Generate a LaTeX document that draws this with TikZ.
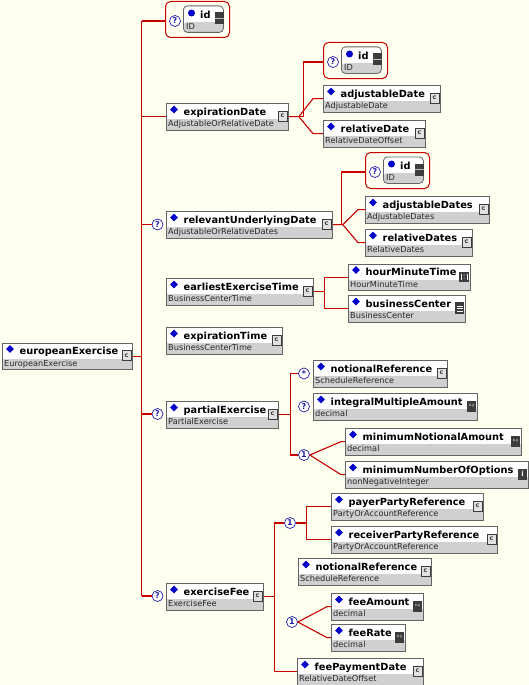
\documentclass[tikz,border=0pt]{standalone}
\usepackage{fontspec}
\setmainfont{DejaVu Sans}
\usetikzlibrary{shapes.geometric,calc}
\definecolor{bg}{RGB}{255,255,240}
\definecolor{lred}{RGB}{200,0,0}
\definecolor{bbord}{RGB}{100,100,100}
\definecolor{tgray}{RGB}{208,208,208}
\definecolor{dblue}{RGB}{0,0,200}
\definecolor{qblue}{RGB}{30,30,170}
\definecolor{icdark}{RGB}{60,60,60}
\definecolor{iclight}{RGB}{225,225,225}
\tikzset{
 ebox/.style={draw=bbord, line width=0.8pt, fill=white, minimum height=26.5pt, inner sep=0pt,
   path picture={\fill[tgray] ([yshift=10.5pt]path picture bounding box.south west) rectangle (path picture bounding box.south east);}},
 idbox/.style={ebox, rounded corners=4pt, minimum width=40pt},
 redgrp/.style={draw=lred, line width=1pt, rounded corners=5pt, minimum width=64pt, minimum height=36pt, inner sep=0pt},
 dia/.style={diamond, fill=dblue, minimum size=8pt, inner sep=0pt},
 adot/.style={circle, fill=dblue, minimum size=7pt, inner sep=0pt},
 nm/.style={font=\fontsize{9.8}{11}\selectfont\bfseries, inner sep=0pt},
 ty/.style={font=\fontsize{8.2}{9}\selectfont, inner sep=0pt, text=black!85},
 cline/.style={draw=lred, line width=1.1pt},
 opt/.style={circle, draw=qblue, fill=white, line width=0.7pt, minimum size=11pt, inner sep=0pt,
   font=\fontsize{8}{8}\selectfont\bfseries, text=qblue},
 icc/.style={draw=icdark, fill=iclight, line width=0.6pt, minimum width=9pt, minimum height=10pt, inner sep=0pt,
   font=\fontsize{6.5}{6.5}\selectfont\bfseries, text=icdark},
 icx/.style={fill=icdark, minimum width=9pt, minimum height=11pt, inner sep=0pt,
   font=\fontsize{3.8}{4}\selectfont, text=white},
 ici/.style={fill=icdark, minimum width=9pt, minimum height=11pt, inner sep=0pt,
   font=\fontsize{7}{7}\selectfont\bfseries, text=white},
 icstr/.style={fill=icdark, minimum width=9pt, minimum height=12pt, inner sep=0pt,
   path picture={\foreach \yy in {3,5.5,8}{\draw[white,line width=0.7pt] ([xshift=1.5pt,yshift=\yy pt]path picture bounding box.south west) -- ++(6pt,0pt);}}},
 ictime/.style={fill=icdark, minimum width=10pt, minimum height=10pt, inner sep=0pt,
   path picture={\draw[white,line width=0.6pt] ([xshift=2pt,yshift=2pt]path picture bounding box.south west) -- ++(0pt,6pt);
     \draw[white,line width=0.6pt] ([xshift=8pt,yshift=2pt]path picture bounding box.south west) -- ++(0pt,6pt);
     \fill[white] ([yshift=1.5pt]path picture bounding box.center) circle (0.6pt);
     \fill[white] ([yshift=-1.5pt]path picture bounding box.center) circle (0.6pt);}},
 iceq/.style={fill=icdark, minimum width=9pt, minimum height=12pt, inner sep=0pt,
   path picture={\draw[white!75!black,line width=1.4pt] (path picture bounding box.west) -- (path picture bounding box.east);}}
}
\newcommand\elem[8]{%
  \node[ebox, minimum width=#4pt, anchor=north west] (#1) at (#2,#3) {};
  \node[dia] (#1d) at ([xshift=8pt,yshift=-6.5pt]#1.north west) {};
  \node[nm, anchor=base west] (#1n) at ([xshift=17.5pt,yshift=-12pt]#1.north west) {#5};
  \node[ty, anchor=base west] (#1t) at ([xshift=2pt,yshift=-23.8pt]#1.north west) {#6};
  \node[#7, anchor=east] (#1i) at ([xshift=-1.5pt,yshift=-13pt]#1.north east) {#8};
}
\newcommand\idgrp[3]{%
  \node[redgrp, anchor=north west] (#1) at (#2,#3) {};
  \coordinate (#1c) at ([yshift=-20pt]#1.north west);
  \node[opt] (#1q) at ([xshift=10pt]#1c) {?};
  \node[idbox, anchor=north west] (#1b) at ([xshift=18pt,yshift=-4.5pt]#1.north west) {};
  \node[adot] (#1d) at ([xshift=8.5pt,yshift=-7.5pt]#1b.north west) {};
  \node[nm, anchor=base west] (#1n) at ([xshift=17pt,yshift=-13pt]#1b.north west) {id};
  \node[ty, anchor=base west] (#1t) at ([xshift=3pt,yshift=-24pt]#1b.north west) {ID};
  \node[iceq, anchor=east] (#1i) at ([yshift=-13pt]#1b.north east) {};
}
\begin{document}
\begin{tikzpicture}[x=1pt,y=-1pt]
\fill[bg] (0,0) rectangle (529,685);
\useasboundingbox (0,0) rectangle (529,685);

% elements
\elem{ee}{2}{342.5}{130}{europeanExercise}{EuropeanExercise}{icc}{c}
\idgrp{ida}{165}{1}
\elem{ed}{166}{103}{122}{expirationDate}{AdjustableOrRelativeDate}{icc}{c}
\idgrp{idb}{323}{42}
\elem{ad}{323}{85}{117}{adjustableDate}{AdjustableDate}{icc}{c}
\elem{rd}{323}{120}{102}{relativeDate}{RelativeDateOffset}{icc}{c}
\elem{rud}{166}{211}{166}{relevantUnderlyingDate}{AdjustableOrRelativeDates}{icc}{c}
\idgrp{idc}{365}{152}
\elem{ads}{365}{196}{124}{adjustableDates}{AdjustableDates}{icc}{c}
\elem{rds}{365}{229}{107}{relativeDates}{RelativeDates}{icc}{c}
\elem{eet}{166}{278}{147}{earliestExerciseTime}{BusinessCenterTime}{icc}{c}
\elem{hmt}{348}{263.5}{122}{hourMinuteTime}{HourMinuteTime}{ictime}{}
\elem{bc}{348}{295}{117}{businessCenter}{BusinessCenter}{icstr}{}
\elem{et}{166}{327}{116}{expirationTime}{BusinessCenterTime}{icc}{c}
\elem{pe}{166}{401}{112}{partialExercise}{PartialExercise}{icc}{c}
\elem{nr}{313}{360}{134}{notionalReference}{ScheduleReference}{icc}{c}
\elem{ima}{313}{393}{164}{integralMultipleAmount}{decimal}{icx}{x.y}
\elem{mna}{345}{428}{176}{minimumNotionalAmount}{decimal}{icx}{x.y}
\elem{mno}{345}{461}{183}{minimumNumberOfOptions}{nonNegativeInteger}{ici}{i}
\elem{ef}{166}{583}{97}{exerciseFee}{ExerciseFee}{icc}{c}
\elem{ppr}{331}{493}{152}{payerPartyReference}{PartyOrAccountReference}{icc}{c}
\elem{rpr}{331}{526}{166}{receiverPartyReference}{PartyOrAccountReference}{icc}{c}
\elem{nrb}{298}{558}{133}{notionalReference}{ScheduleReference}{icc}{c}
\elem{fa}{331}{593}{92}{feeAmount}{decimal}{icx}{x.y}
\elem{fr}{331}{624}{74}{feeRate}{decimal}{icx}{x.y}
\elem{fpd}{297}{658}{126}{feePaymentDate}{RelativeDateOffset}{icc}{c}

% compositor symbols
\node[opt] (qrud) at (157.5,224.5) {?};
\node[opt] (qpe) at (157.5,414) {?};
\node[opt] (qef) at (157.5,596) {?};
\node[opt] (sstar) at (304,373.5) {*};
\node[opt] (qima) at (304,406.5) {?};
\node[opt] (one1) at (304,455) {1};
\node[opt] (one2) at (290,523) {1};
\node[opt] (one3) at (292,622) {1};

% trunk
\coordinate (tr) at (141.5,0);
\draw[cline] (ee.east) -- (ee.east -| tr);
\draw[cline] (tr |- idac) -- (tr |- qef);
\draw[cline] (tr |- idac) -- (idac);
\draw[cline] (tr |- ed.west) -- (ed.west);
\draw[cline] (tr |- qrud) -- (qrud.west);
\draw[cline] (tr |- qpe) -- (qpe.west);
\draw[cline] (tr |- qef) -- (qef.west);

% expirationDate
\draw[cline] (ed.east) -- ++(14.5,0) |- (idbc);
\draw[cline] (ed.east) -- ++(10,0) coordinate (edj) -- ([xshift=-10pt]ad.west) -- (ad.west);
\draw[cline] (edj) -- ([xshift=-10pt]rd.west) -- (rd.west);

% relevantUnderlyingDate
\draw[cline] (rud.east) -- ++(8.5,0) |- (idcc);
\draw[cline] (rud.east) -- ++(10,0) coordinate (rudj) -- ([xshift=-7pt]ads.west) -- (ads.west);
\draw[cline] (rudj) -- ([xshift=-7pt]rds.west) -- (rds.west);

% earliestExerciseTime
\draw[cline] (eet.east) -- ++(10.5,0) coordinate (eetj);
\draw[cline] (hmt.west) -| (eetj) |- (bc.west);

% partialExercise
\draw[cline] (pe.east) -- ++(11.5,0) coordinate (pej);
\draw[cline] (sstar.west) -| (pej) |- (one1.west);
\draw[cline] (one1.east) -- ([xshift=-4pt]mna.west) -- (mna.west);
\draw[cline] (one1.east) -- ([xshift=-4pt]mno.west) -- (mno.west);

% exerciseFee
\draw[cline] (ef.east) -- ++(10.5,0) coordinate (efj);
\draw[cline] (one2.west) -| (efj) |- (fpd.west);
\draw[cline] (one2.east) -- ++(10.5,0) coordinate (o2j);
\draw[cline] (ppr.west) -| (o2j) |- (rpr.west);
\draw[cline] (one3.east) -- ([xshift=-4pt]fa.west) -- (fa.west);
\draw[cline] (one3.east) -- ([xshift=-4pt]fr.west) -- (fr.west);
\end{tikzpicture}
\end{document}
